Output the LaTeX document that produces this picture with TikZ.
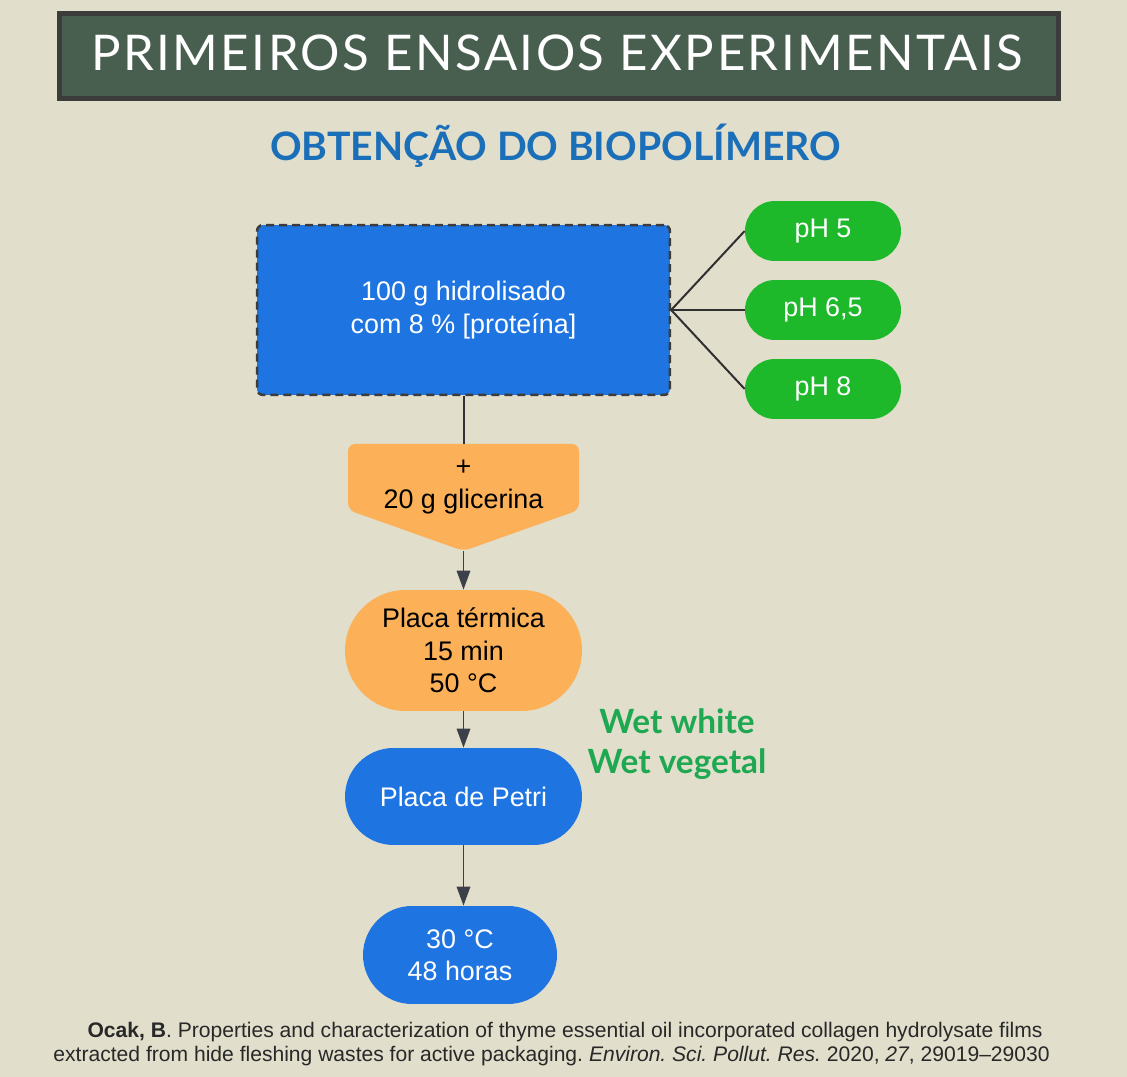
\documentclass[tikz,border=0pt]{standalone}
\usepackage{fontspec}
\setmainfont{Liberation Sans}
\newfontfamily\fonttitulo[LetterSpace=5]{Lato}
\newfontfamily\fontsub{Lato}
\usepackage{xcolor}
\usetikzlibrary{shapes.misc,arrows.meta}
\definecolor{fundo} {RGB}{225,222,203}
\definecolor{faixa} {RGB}{72,95,80}
\definecolor{borda} {RGB}{60,60,60}
\definecolor{azul} {RGB}{30,116,224}
\definecolor{verde} {RGB}{29,185,42}
\definecolor{laranja} {RGB}{252,177,89}
\definecolor{seta} {RGB}{60,64,72}
\definecolor{azultit} {RGB}{26,111,184}
\definecolor{wet} {RGB}{29,168,81}
\definecolor{citacao} {RGB}{40,40,40}
\frenchspacing

\begin{document}
\begin{tikzpicture}[x=0.02cm,y=-0.02cm,
      texto/.style={font=\fontsize{15.3}{18.5}\selectfont,align=center},
      ph/.style={texto,rounded rectangle,fill=verde,text=white,minimum width=3.12cm,minimum height=1.2cm,inner sep=0pt},
      etapa/.style={texto,rounded rectangle,minimum width=4.74cm,inner sep=0pt},
      liga/.style={draw=borda!80!black,line width=0.04cm},
      fluxo/.style={draw=seta,line width=0.035cm,-{Triangle[length=0.38cm,width=0.27cm]}},
      cita/.style={text=citacao,font=\fontsize{12}{14}\selectfont,anchor=east,inner sep=0pt}]
                  \fill[fundo] (0,0) rectangle (1127,1077);
                  \draw[borda,line width=0.1cm,fill=faixa] (59.5,13.5) rectangle (1058.5,98.5);
                  \node[text=white,font=\fonttitulo\fontsize{28}{30}\selectfont] (titulo) at (557,53) {PRIMEIROS ENSAIOS EXPERIMENTAIS};
                  \node[text=azultit,font=\fontsub\bfseries\fontsize{22.3}{24}\selectfont] (sub) at (555.5,146) {OBTENÇÃO DO BIOPOLÍMERO};

                  \node[texto,rectangle,fill=azul,text=white,draw=borda,dashed,dash pattern=on 0.16cm off 0.1cm,line width=0.05cm,rounded corners=0.12cm,minimum width=8.26cm,minimum height=3.4cm] (hidro) at (463.5,310) {\fontsize{15.3}{19.3}\selectfont 100 g hidrolisado\\com 8 \% [proteína]};
                  \node[ph] (ph5) at (823,231) {pH 5};
                  \node[ph] (ph65) at (823,310) {pH 6,5};
                  \node[ph] (ph8) at (823,389) {pH 8};
                  \draw[liga] (hidro.east) -- (ph5.west);
                  \draw[liga] (hidro.east) -- (ph65.west);
                  \draw[liga] (hidro.east) -- (ph8.west);

                  \fill[laranja,rounded corners=0.14cm] (348,444) -- (579,444) -- (579,510) -- (463.5,551) -- (348,510) -- cycle;
                  \node[texto,minimum width=4.62cm,minimum height=2.14cm,inner sep=0pt] (glic) at (463.5,497.5) {};
                  \node[texto] (glictxt) at (463.5,487) {+\\20 g glicerina};
                  \draw[liga] (hidro.south) -- (glic.north);

                  \node[etapa,fill=laranja,minimum height=2.42cm] (termica) at (463.5,650.5) {Placa térmica\\15 min\\50 °C};
                  \node[etapa,fill=azul,text=white,minimum height=1.94cm] (petri) at (463.5,796.5) {Placa de Petri};
                  \node[texto,rounded rectangle,fill=azul,text=white,minimum width=3.88cm,minimum height=1.96cm,inner sep=0pt] (horas) at (460,955) {30 °C\\48 horas};
                  \draw[fluxo] (glic.south) -- (termica.north);
                  \draw[fluxo] (termica.south) -- (petri.north);
                  \draw[fluxo] (petri.south) -- (petri.south |- horas.north);

                  \node[text=wet,font=\fontsub\bfseries\fontsize{19}{22}\selectfont] (white) at (677,721) {Wet white};
                  \node[text=wet,font=\fontsub\bfseries\fontsize{19}{22}\selectfont] (vegetal) at (677,764) {Wet vegetal};

                  \node[cita] (cit1) at (1043,1032) {\textbf{Ocak, B}. Properties and characterization of thyme essential oil incorporated collagen hydrolysate films};
                  \node[cita] (cit2) at (1050,1056) {extracted from hide fleshing wastes for active packaging. \textit{Environ. Sci. Pollut. Res.} 2020, \textit{27}, 29019–29030};
            \end{tikzpicture}
\end{document}
